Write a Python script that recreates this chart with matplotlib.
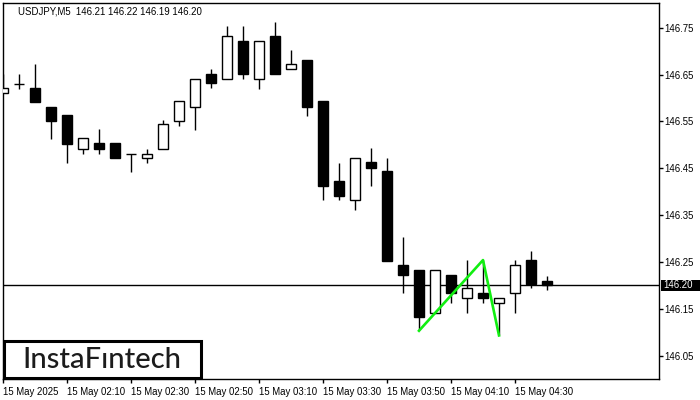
import matplotlib
matplotlib.use("Agg")
import matplotlib.pyplot as plt
from matplotlib.patches import Rectangle

# ---- data ----
tick_labels = ["15 May 2025", "15 May 02:10", "15 May 02:30", "15 May 02:50",
               "15 May 03:10", "15 May 03:30", "15 May 03:50", "15 May 04:10",
               "15 May 04:30"]
tick_positions = [0, 4, 8, 12, 16, 20, 24, 28, 32]

opens = [146.611, 146.631, 146.622, 146.581, 146.563, 146.492, 146.503, 146.503,
         146.481, 146.472, 146.492, 146.551, 146.581, 146.652, 146.641, 146.722,
         146.641, 146.733, 146.662, 146.682, 146.593, 146.422, 146.383, 146.463,
         146.444, 146.244, 146.233, 146.142, 146.223, 146.173, 146.184, 146.163,
         146.184, 146.254, 146.21]
highs = [146.652, 146.652, 146.673, 146.581, 146.563, 146.514, 146.533, 146.503,
         146.481, 146.492, 146.553, 146.593, 146.641, 146.663, 146.753, 146.753,
         146.722, 146.763, 146.703, 146.682, 146.593, 146.462, 146.473, 146.493,
         146.473, 146.303, 146.233, 146.233, 146.223, 146.254, 146.254, 146.173,
         146.254, 146.273, 146.22]
lows = [146.611, 146.620, 146.591, 146.512, 146.461, 146.481, 146.481, 146.472,
        146.442, 146.461, 146.492, 146.541, 146.532, 146.622, 146.641, 146.641,
        146.620, 146.651, 146.662, 146.561, 146.383, 146.383, 146.361, 146.412,
        146.253, 146.184, 146.104, 146.142, 146.163, 146.142, 146.163, 146.093,
        146.142, 146.194, 146.19]
closes = [146.622, 146.631, 146.591, 146.551, 146.501, 146.514, 146.492, 146.472,
          146.481, 146.481, 146.544, 146.593, 146.641, 146.632, 146.733, 146.651,
          146.722, 146.651, 146.673, 146.580, 146.412, 146.391, 146.473, 146.451,
          146.253, 146.223, 146.132, 146.233, 146.184, 146.194, 146.173, 146.173,
          146.244, 146.203, 146.20]

pattern_x = [26, 30, 31]
pattern_y = [146.103, 146.254, 146.093]

y_ticks = [146.05, 146.15, 146.25, 146.35, 146.45, 146.55, 146.65, 146.75]
current_price = 146.20
title_text = "USDJPY,M5  146.21 146.22 146.19 146.20"
logo_text = "InstaF\u0131ntech"

# ---- figure ----
W, H = 700, 400
fig = plt.figure(figsize=(7, 4), dpi=100)
fig.patch.set_facecolor("white")
ax = fig.add_axes([2.7 / W, 1 - 379 / H, (659 - 2.7) / W, (379 - 3) / H])
ax.set_facecolor("white")

FONT = "Liberation Sans"
FS = 6.9

bw = 0.64
for i, (o, h, l, c) in enumerate(zip(opens, highs, lows, closes)):
    top = max(o, c)
    bot = min(o, c)
    ax.plot([i, i], [l, h], color="black", lw=1.0, solid_capstyle="butt", zorder=2)
    fc = "white" if c > o else "black"
    ax.add_patch(Rectangle((i - bw / 2, bot), bw, top - bot, facecolor=fc,
                           edgecolor="black", lw=1.0, zorder=3))

ax.axhline(current_price, color="black", lw=1.0, zorder=1)
ax.plot(pattern_x, pattern_y, color="#11ee11", lw=1.9, zorder=4)

ax.set_xlim(-0.02, 41.0)
ax.set_ylim(146.0, 146.803)

for s in ax.spines.values():
    s.set_color("black")
    s.set_linewidth(1.0)

ax.set_xticks(tick_positions)
ax.set_xticklabels(tick_labels, fontsize=FS, family=FONT)
for lab in ax.get_xticklabels():
    lab.set_horizontalalignment("left")
ax.tick_params(axis="x", direction="out", length=3, width=1, pad=3, colors="black")

ax.yaxis.tick_right()
ax.set_yticks(y_ticks)
ax.set_yticklabels([f"{v:.2f}" for v in y_ticks], fontsize=FS, family=FONT)
ax.tick_params(axis="y", direction="out", length=3, width=1, pad=1, colors="black")

# current price label: black box from the axis edge to the figure edge
ypix = ax.transData.transform((0, current_price))[1]
fig.patches.append(Rectangle((661 / W, (ypix - 6) / H), (700 - 661) / W, 11.5 / H,
                             transform=fig.transFigure, facecolor="black",
                             edgecolor="none", zorder=9))
fig.text(663.5 / W, ypix / H, f"{current_price:.2f}", fontsize=FS, family=FONT,
         color="white", va="center", ha="left", zorder=10)

# title
fig.text(18 / W, 1 - 11 / H, title_text, fontsize=FS, family=FONT,
         color="black", va="center", ha="left")

# logo
fig.patches.append(Rectangle((4 / W, 1 - 377.5 / H), (201 - 4) / W, (377.5 - 341) / H,
                             transform=fig.transFigure, facecolor="white",
                             edgecolor="black", lw=2.2, zorder=20))
fig.text(102 / W, 1 - 359.5 / H, logo_text, fontsize=21, family="Lato",
         fontweight="medium", color="#1c1c1c", va="center", ha="center", zorder=21)

fig.savefig("out.png", dpi=100, facecolor="white")
